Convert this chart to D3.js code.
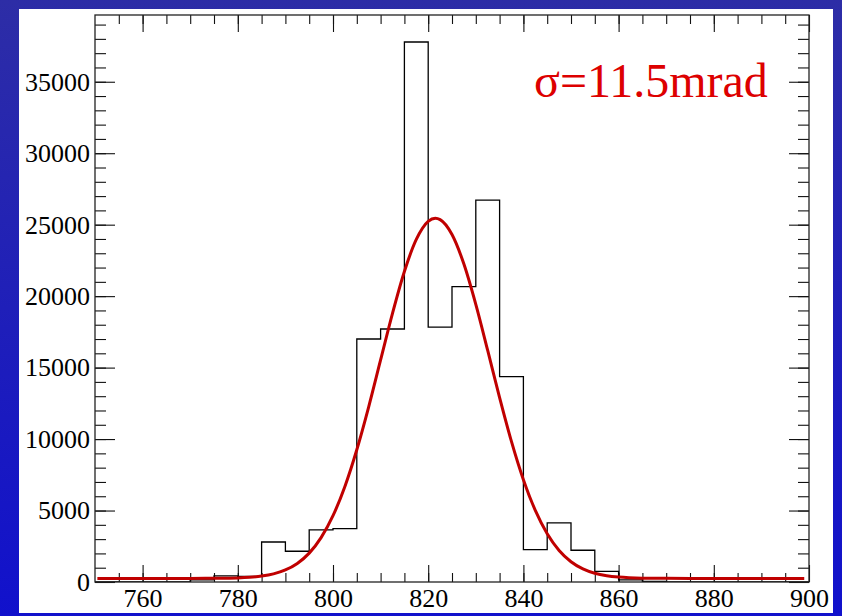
<!DOCTYPE html>
<html>
<head>
<meta charset="utf-8">
<script src="https://cdn.jsdelivr.net/npm/d3@7"></script>
<style>
  html, body { margin: 0; padding: 0; background: #1a1ab8; }
  svg { display: block; }
  text { font-family: "Liberation Serif", "DejaVu Serif", serif; }
</style>
</head>
<body>
<script>
// ---- data ----
const binEdges = [750,755,760,765,770,775,780,785,790,795,800,805,810,815,820,825,830,835,840,845,850,855,860,865,870,875,880,885,890,895,900];
const binCounts = [0,0,0,0,150,430,400,2800,2150,3650,3730,17000,17700,37780,17830,20670,26720,14370,2260,4130,2220,750,150,50,0,0,0,0,0,0];
const fitX = [750.5,760,770,775,780,782.5,785,787.5,790,792.5,795,797.5,800,802.5,805,807.5,810,812.5,815,817.5,820,821.5,822.5,825,827.5,830,832.5,835,837.5,840,842.5,845,847.5,850,852.5,855,857.5,860,865,870,880,899];
const fitY = [250,250,251,260,288,330,414,568,842,1298,2021,3105,4638,6686,9254,12260,15535,18802,21730,23971,25236,25450,25355,24311,22245,19425,16199,12903,9823,7160,5008,3373,2206,1419,916,612,438,343,270,255,250,250];
const xMajorTicks = [760,780,800,820,840,860,880,900];
const xMinorTicks = d3.range(755, 900, 5);
const yMajorTicks = [0,5000,10000,15000,20000,25000,30000,35000];
const yMinorTicks = d3.range(1000, 39001, 1000);
const label = "σ=11.5mrad";

// ---- layout ----
const W = 842, H = 616;
const m = {left: 95, right: 809, top: 15, bottom: 582};

const svg = d3.select("body").append("svg").attr("width", W).attr("height", H);
const defs = svg.append("defs");
const grad = defs.append("linearGradient").attr("id", "bg").attr("x1", 0).attr("y1", 0).attr("x2", 0).attr("y2", 1);
grad.append("stop").attr("offset", "0%").attr("stop-color", "#2d2da6");
grad.append("stop").attr("offset", "100%").attr("stop-color", "#1111cc");
svg.append("rect").attr("width", W).attr("height", H).attr("fill", "url(#bg)");
svg.append("rect").attr("x", 19).attr("y", 9).attr("width", 814).attr("height", 604).attr("fill", "#fff");

const x = d3.scaleLinear().domain([750, 900]).range([m.left, m.right]);
const y = d3.scaleLinear().domain([0, 39670]).range([m.bottom, m.top]);

defs.append("clipPath").attr("id", "clip").append("rect")
  .attr("x", m.left).attr("y", m.top).attr("width", m.right - m.left).attr("height", m.bottom - m.top);

// ---- axes (ticks inward) ----
function styleAxis(g) {
  g.select(".domain").remove();
  g.selectAll(".tick line").attr("stroke", "#111").attr("stroke-width", 1.1);
  g.selectAll(".tick text").attr("fill", "#000").style("font-size", "26px")
    .style("font-family", '"Liberation Serif", serif');
}
// bottom
svg.append("g").attr("transform", `translate(0,${m.bottom})`)
  .call(d3.axisBottom(x).tickValues(xMinorTicks).tickSize(-9).tickFormat(""))
  .call(styleAxis);
svg.append("g").attr("transform", `translate(0,${m.bottom})`)
  .call(d3.axisBottom(x).tickValues(xMajorTicks).tickSize(-17).tickPadding(7).tickFormat(d3.format("d")))
  .call(styleAxis);
// top
svg.append("g").attr("transform", `translate(0,${m.top})`)
  .call(d3.axisTop(x).tickValues(xMinorTicks).tickSize(-9).tickFormat(""))
  .call(styleAxis);
svg.append("g").attr("transform", `translate(0,${m.top})`)
  .call(d3.axisTop(x).tickValues(xMajorTicks).tickSize(-17).tickFormat(""))
  .call(styleAxis);
// left
svg.append("g").attr("transform", `translate(${m.left},0)`)
  .call(d3.axisLeft(y).tickValues(yMinorTicks).tickSize(-11).tickFormat(""))
  .call(styleAxis);
svg.append("g").attr("transform", `translate(${m.left},0)`)
  .call(d3.axisLeft(y).tickValues(yMajorTicks).tickSize(-20).tickPadding(5).tickFormat(d3.format("d")))
  .call(styleAxis);
// right
svg.append("g").attr("transform", `translate(${m.right},0)`)
  .call(d3.axisRight(y).tickValues(yMinorTicks).tickSize(-11).tickFormat(""))
  .call(styleAxis);
svg.append("g").attr("transform", `translate(${m.right},0)`)
  .call(d3.axisRight(y).tickValues(yMajorTicks).tickSize(-20).tickFormat(""))
  .call(styleAxis);

// ---- histogram ----
const histPts = binEdges.map((e, i) => [e, i < binCounts.length ? binCounts[i] : binCounts[binCounts.length - 1]]);
svg.append("path")
  .attr("clip-path", "url(#clip)")
  .attr("d", d3.line().x(d => x(d[0])).y(d => y(d[1])).curve(d3.curveStepAfter)(histPts))
  .attr("fill", "none").attr("stroke", "#000").attr("stroke-width", 1.3);

// ---- fit ----
svg.append("path")
  .attr("d", d3.line().x((d, i) => x(fitX[i])).y(d => y(d)).curve(d3.curveMonotoneX)(fitY))
  .attr("fill", "none").attr("stroke", "#c00000").attr("stroke-width", 3);

// ---- frame ----
svg.append("rect").attr("x", m.left).attr("y", m.top)
  .attr("width", m.right - m.left).attr("height", m.bottom - m.top)
  .attr("fill", "none").attr("stroke", "#222").attr("stroke-width", 1.3);

// ---- label ----
svg.append("text").attr("x", 534).attr("y", 97)
  .attr("fill", "#dd0000").style("font-size", "48px").text(label);
</script>
</body>
</html>
